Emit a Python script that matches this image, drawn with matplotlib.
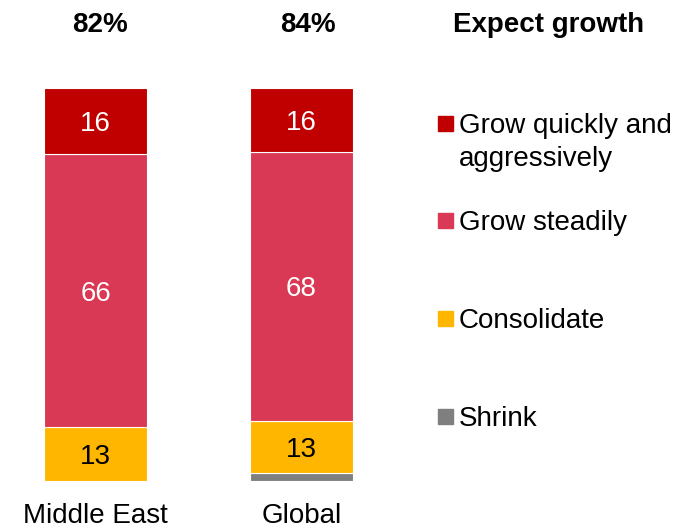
import matplotlib
matplotlib.use("Agg")
import matplotlib.pyplot as plt
from matplotlib.patches import Rectangle
import numpy as np

plt.rcParams['font.family'] = ['Liberation Sans', 'DejaVu Sans']

regions = ["Middle East", "Global"]
headers = ["82%", "84%"]
series = ["Shrink", "Consolidate", "Grow steadily", "Grow quickly and\naggressively"]
shrink = [0, 2]
consolidate = [13, 13]
grow_steadily = [66, 68]
grow_quickly = [16, 16]
colors = ["#7F7F7F", "#FFB600", "#D93954", "#C00000"]
label_colors = [None, "black", "white", "white"]

W, H = 690, 530
fig = plt.figure(figsize=(W / 100, H / 100), dpi=100)

def fx(px):
    return px / W

def fy(py):
    return 1 - py / H

ax = fig.add_axes([0, fy(481), fx(400), fy(88) - fy(481)])
data = np.array([shrink, consolidate, grow_steadily, grow_quickly], dtype=float)
totals = data.sum(axis=0)
norm = data / totals * 100
x = np.arange(len(regions))
bottom = np.zeros(len(regions))
for i in range(len(series)):
    bars = ax.bar(x, norm[i], 0.5, bottom=bottom, color=colors[i],
                  edgecolor="white", linewidth=0.8)
    if label_colors[i] is not None:
        for j, b in enumerate(bars):
            if data[i][j] > 0:
                ax.text(b.get_x() + b.get_width() / 2, bottom[j] + norm[i][j] / 2,
                        f"{int(data[i][j])}", ha="center", va="center_baseline",
                        fontsize=20, color=label_colors[i])
    bottom += norm[i]

ax.set_xlim(-95.5 / 206, (400 - 95.5) / 206)
ax.set_ylim(0, 100)
ax.set_xticks(x)
ax.set_xticklabels(regions, fontsize=20)
ax.tick_params(axis="x", length=0, pad=16)
ax.set_yticks([])
for s in ax.spines.values():
    s.set_visible(False)

# headers
for px, txt in zip([100, 308], headers):
    fig.text(fx(px), fy(22), txt, ha="center", va="center_baseline", fontsize=20, fontweight="bold")
fig.text(fx(549), fy(22), "Expect growth", ha="center", va="center_baseline", fontsize=20, fontweight="bold")

# legend
leg_y = [124, 221, 319, 417]
leg_order = [3, 2, 1, 0]
for yy, i in zip(leg_y, leg_order):
    fig.patches.append(Rectangle((fx(438), fy(yy + 7)), fx(15), fy(yy - 8) - fy(yy + 7),
                                 transform=fig.transFigure, color=colors[i]))
    lines = series[i].split("\n")
    for k, line in enumerate(lines):
        fig.text(fx(459), fy(yy - 1 + 33 * k), line, ha="left", va="center_baseline", fontsize=20)

fig.savefig("out.png", dpi=100)
